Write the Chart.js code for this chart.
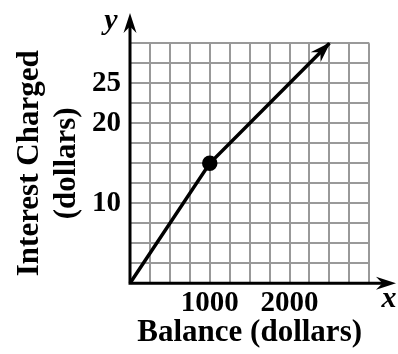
<!DOCTYPE html>
<html>
<head>
<meta charset="utf-8">
<style>
  html, body { margin: 0; padding: 0; background: #fff; }
  #wrap { width: 398px; height: 354px; }
</style>
<script src="https://cdn.jsdelivr.net/npm/chart.js@4.4.1/dist/chart.umd.min.js"></script>
</head>
<body>
<div id="wrap"><canvas id="c" width="398" height="354"></canvas></div>
<script>
// Interest charged as a function of account balance
const balance = [0, 1000, 2500];
const interest = [0, 15, 30];
const markedPoint = [false, true, false];
const xTickLabels = [1000, 2000];
const yTickLabels = [10, 20, 25];

const SERIF = '"Liberation Serif", "Times New Roman", serif';

function arrowHead(ctx, x, y, angle, len, half) {
  ctx.save();
  ctx.translate(x, y);
  ctx.rotate(angle);
  ctx.beginPath();
  ctx.moveTo(0, 0);
  ctx.lineTo(-len, -half);
  ctx.lineTo(-len * 0.68, 0);
  ctx.lineTo(-len, half);
  ctx.closePath();
  ctx.fill();
  ctx.restore();
}

// Axis lines with arrowheads and the x / y letters
const axesPlugin = {
  id: 'axesArrows',
  beforeDatasetsDraw(chart) {
    const { ctx, chartArea: a } = chart;
    ctx.save();
    ctx.strokeStyle = '#000';
    ctx.fillStyle = '#000';
    ctx.lineWidth = 3;
    ctx.beginPath();
    ctx.moveTo(a.left, a.bottom + 1.5);
    ctx.lineTo(a.left, 22);
    ctx.moveTo(a.left, a.bottom);
    ctx.lineTo(388, a.bottom);
    ctx.stroke();
    arrowHead(ctx, a.left, 13, -Math.PI / 2, 20, 6.5);
    arrowHead(ctx, 396, a.bottom, 0, 20, 6.5);
    ctx.font = 'italic bold 30px ' + SERIF;
    ctx.textAlign = 'center';
    ctx.textBaseline = 'alphabetic';
    ctx.fillText('y', 111, 29);
    ctx.fillText('x', 389, 307);
    ctx.restore();
  },
  afterDatasetsDraw(chart) {
    const { ctx } = chart;
    const pts = chart.getDatasetMeta(0).data;
    const p1 = pts[pts.length - 2], p2 = pts[pts.length - 1];
    const ang = Math.atan2(p2.y - p1.y, p2.x - p1.x);
    ctx.save();
    ctx.fillStyle = '#000';
    arrowHead(ctx, p2.x + Math.cos(ang) * 1.5, p2.y + Math.sin(ang) * 1.5, ang, 21, 7);
    ctx.restore();
  }
};

new Chart(document.getElementById('c'), {
  type: 'line',
  data: {
    datasets: [{
      data: balance.map((b, i) => ({ x: b, y: interest[i] })),
      borderColor: '#000',
      borderWidth: 3.5,
      backgroundColor: '#000',
      pointRadius: markedPoint.map(m => (m ? 6 : 0)),
      pointHoverRadius: markedPoint.map(m => (m ? 6 : 0)),
      tension: 0,
      fill: false,
      clip: false
    }]
  },
  plugins: [axesPlugin],
  options: {
    responsive: false,
    devicePixelRatio: 1,
    animation: false,
    events: [],
    layout: { padding: { left: 0, top: 43.3, right: 28.7, bottom: 0 } },
    plugins: { legend: { display: false }, tooltip: { enabled: false } },
    scales: {
      x: {
        type: 'linear',
        min: 0,
        max: 3000,
        afterFit(scale) { scale.height = 70.7; },
        grid: { color: '#999999', lineWidth: 2, drawTicks: false },
        border: { display: false },
        ticks: {
          stepSize: 250,
          autoSkip: false,
          minRotation: 0,
          maxRotation: 0,
          padding: 3,
          color: '#000',
          font: { family: SERIF, size: 29, weight: 'bold' },
          callback: v => (xTickLabels.includes(v) ? String(v) : '')
        },
        title: {
          display: true,
          text: 'Balance (dollars)',
          color: '#000',
          font: { family: SERIF, size: 31, weight: 'bold', lineHeight: 1.2 },
          padding: { top: 0, bottom: 2.4 }
        }
      },
      y: {
        type: 'linear',
        min: 0,
        max: 30,
        afterFit(scale) { scale.width = 130; },
        grid: { color: '#999999', lineWidth: 2, drawTicks: false },
        border: { display: false },
        ticks: {
          stepSize: 2.5,
          autoSkip: false,
          padding: 9,
          color: '#000',
          font: { family: SERIF, size: 29, weight: 'bold' },
          callback: v => (yTickLabels.includes(v) ? String(v) : '')
        },
        title: {
          display: true,
          text: ['Interest Charged', '(dollars)'],
          color: '#000',
          font: { family: SERIF, size: 31, weight: 'bold', lineHeight: 1.2 },
          padding: { top: 11, bottom: 0 }
        }
      }
    }
  }
});
</script>
</body>
</html>
